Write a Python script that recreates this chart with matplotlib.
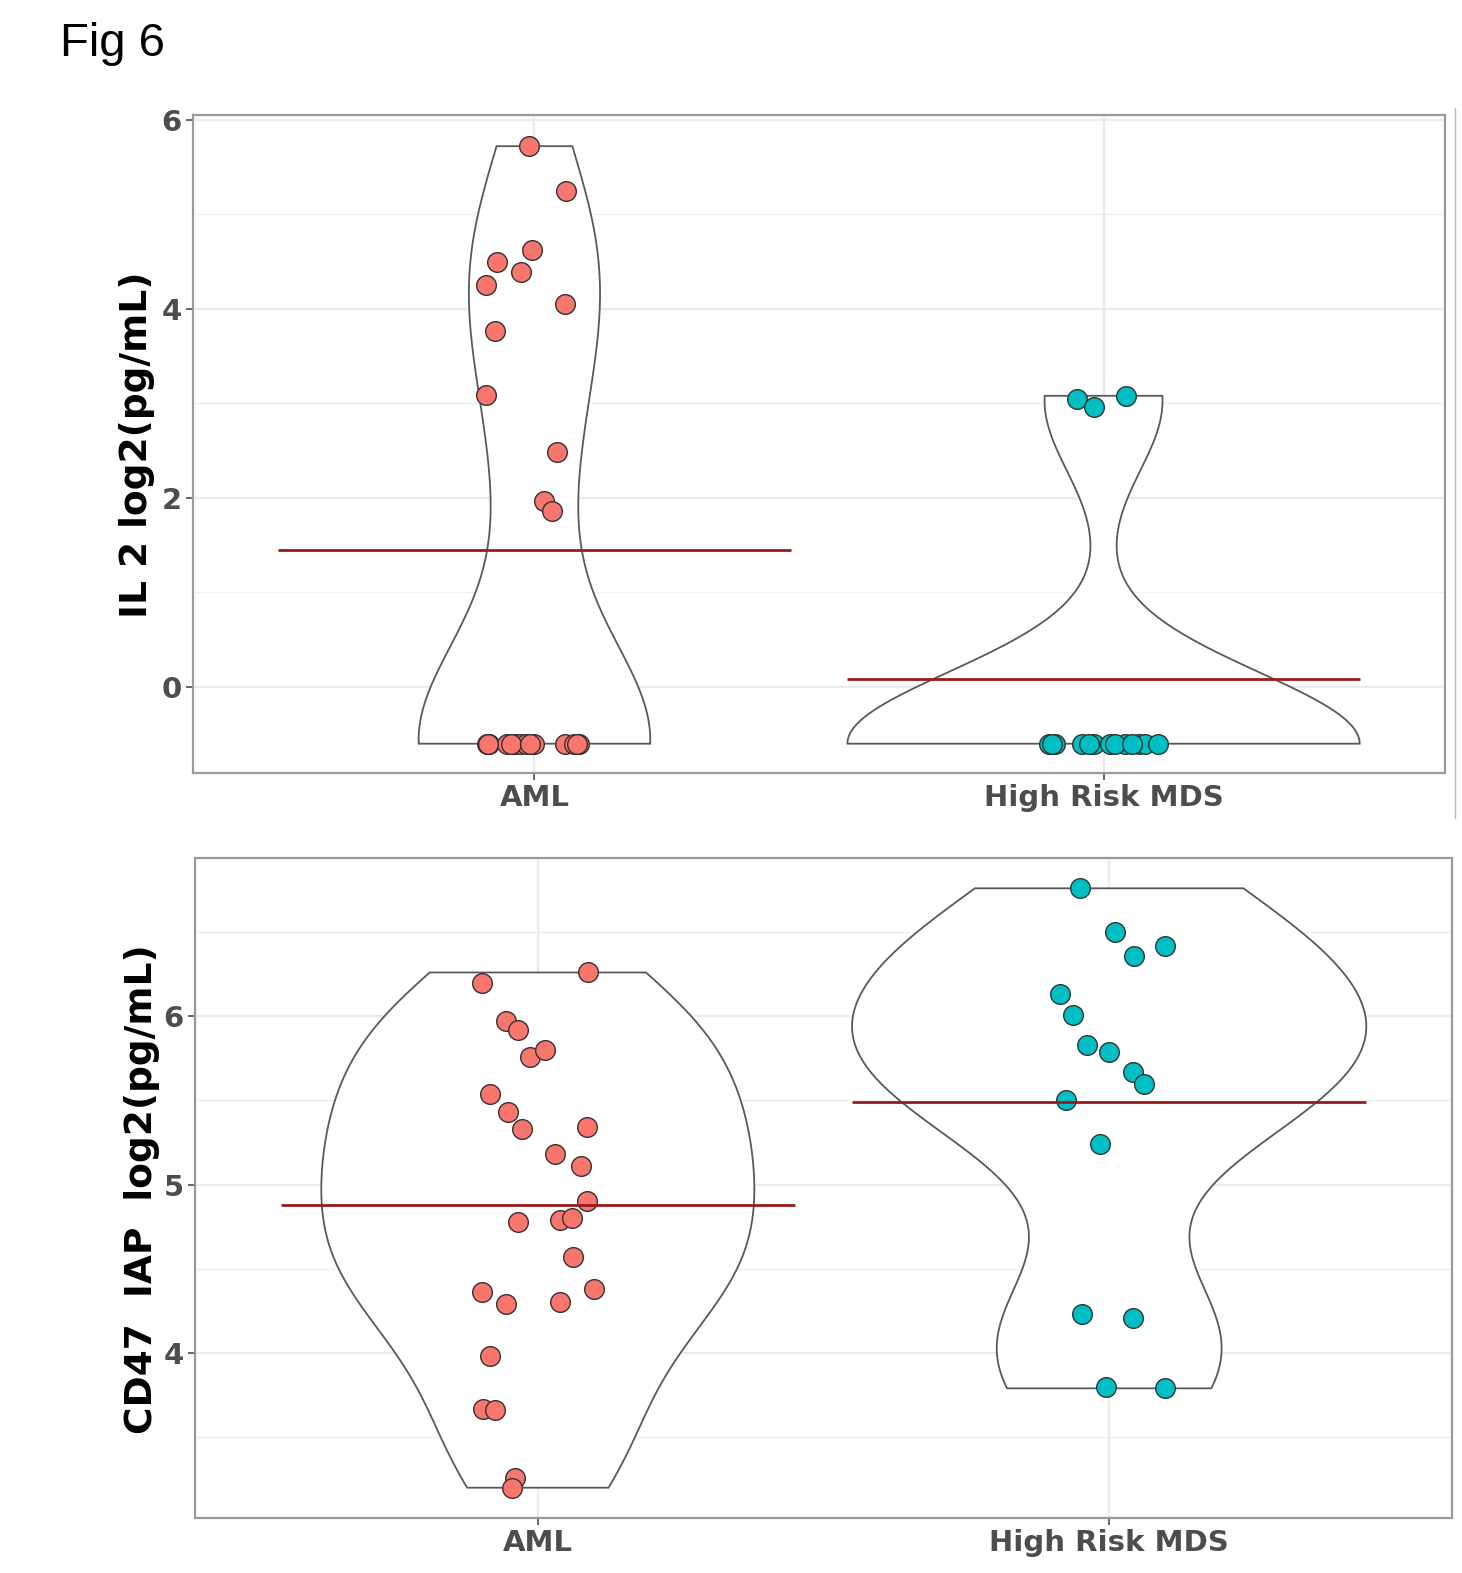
import numpy as np
import matplotlib
matplotlib.use("Agg")
import matplotlib.pyplot as plt
from matplotlib.lines import Line2D

# ---- data ----
groups = ["AML", "High Risk MDS"]
colors = ["#F8766D", "#00BFC4"]

# IL 2, log2(pg/mL)
il2_aml = [5.72, 5.25, 4.62, 4.49, 4.39, 4.25, 4.05, 3.77, 3.09, 2.49, 1.97, 1.86,
           -0.6, -0.6, -0.6, -0.6, -0.6, -0.6, -0.6, -0.6, -0.6, -0.6, -0.6, -0.6, -0.6, -0.6]
il2_aml_jit = [-0.009, 0.056, -0.005, -0.065, -0.023, -0.086, 0.054, -0.069, -0.086, 0.040, 0.016, 0.030,
               -0.084, -0.079, -0.049, -0.035, -0.026, -0.014, 0.0, 0.053, 0.070, 0.079, -0.082, -0.042, -0.007, 0.075]
il2_mds = [3.05, 2.96, 3.08,
           -0.6, -0.6, -0.6, -0.6, -0.6, -0.6, -0.6, -0.6, -0.6, -0.6, -0.6, -0.6, -0.6]
il2_mds_jit = [-0.047, -0.016, 0.040,
               -0.095, -0.086, -0.037, -0.016, 0.011, 0.037, 0.063, 0.072, 0.095, -0.090, -0.025, 0.020, 0.050]

# CD47 IAP, log2(pg/mL)
cd47_aml = [6.20, 6.26, 5.97, 5.92, 5.76, 5.80, 5.54, 5.43, 5.33, 5.34, 5.18, 5.11, 4.90,
            4.78, 4.79, 4.80, 4.57, 4.36, 4.29, 4.30, 4.38, 3.98, 3.67, 3.66, 3.26, 3.20]
cd47_aml_jit = [-0.098, 0.088, -0.056, -0.035, -0.014, 0.012, -0.084, -0.053, -0.028, 0.086, 0.030, 0.075, 0.086,
                -0.035, 0.039, 0.060, 0.061, -0.098, -0.056, 0.039, 0.098, -0.084, -0.096, -0.075, -0.040, -0.046]
cd47_mds = [6.76, 6.50, 6.36, 6.42, 6.13, 6.01, 5.83, 5.79, 5.67, 5.60, 5.50, 5.24, 4.23, 4.21, 3.80, 3.79]
cd47_mds_jit = [-0.051, 0.011, 0.044, 0.098, -0.086, -0.063, -0.039, 0.0, 0.042, 0.061, -0.075, -0.016,
                -0.047, 0.042, -0.005, 0.098]


def nrd0(x):
    x = np.asarray(x)
    hi = np.std(x, ddof=1)
    q = np.percentile(x, [25, 75])
    lo = min(hi, (q[1] - q[0]) / 1.34)
    if lo == 0:
        lo = hi
    return 0.9 * lo * len(x) ** -0.2


def kde(x, grid):
    x = np.asarray(x)
    bw = nrd0(x)
    z = (grid[:, None] - x[None, :]) / bw
    return np.exp(-0.5 * z ** 2).sum(axis=1) / (len(x) * bw * np.sqrt(2 * np.pi))


def panel(ax, series, jits, ylim, yticks, yminor):
    ax.set_xlim(-0.6, 1.6)
    ax.set_ylim(*ylim)
    # grid
    for v in yminor:
        ax.axhline(v, color="#F0F0F0", lw=1.0, zorder=0)
    for v in yticks:
        ax.axhline(v, color="#EBEBEB", lw=1.6, zorder=0)
    for i in range(len(series)):
        ax.axvline(i, color="#EBEBEB", lw=1.6, zorder=0)

    # violins, scale = "area"
    dens = []
    for s in series:
        g = np.linspace(min(s), max(s), 512)
        dens.append((g, kde(s, g)))
    dmax = max(d.max() for g, d in dens)
    for i, (g, d) in enumerate(dens):
        w = d / dmax * 0.45
        xs = np.concatenate([i + w, (i - w)[::-1]])
        ys = np.concatenate([g, g[::-1]])
        ax.fill(xs, ys, facecolor="white", edgecolor="#595959", lw=1.3, zorder=2)

    for i, (s, j) in enumerate(zip(series, jits)):
        ax.scatter(i + np.array(j), s, s=200, color=colors[i], edgecolor="#333333",
                   linewidth=1.0, zorder=3)
        m = np.mean(s)
        ax.hlines(m, i - 0.45, i + 0.45, color="#991B1E", lw=2.0, zorder=4)

    ax.set_xticks([0, 1])
    ax.set_xticklabels(groups)
    ax.set_yticks(yticks)
    ax.set_yticklabels([str(v) for v in yticks])
    for sp in ax.spines.values():
        sp.set_color("#9A9A9A")
        sp.set_linewidth(1.6)
    ax.tick_params(axis="both", colors="#4D4D4D", length=5, width=1.2, labelsize=21)
    for lab in ax.get_xticklabels() + ax.get_yticklabels():
        lab.set_fontweight("bold")
        lab.set_color("#4D4D4D")
    ax.tick_params(axis="x", pad=3)
    ax.tick_params(axis="y", pad=3)


fig = plt.figure(figsize=(14.62, 15.73), dpi=100)

ax1 = fig.add_axes([193 / 1462, 1 - 773 / 1573, (1445 - 193) / 1462, (773 - 115) / 1573])
panel(ax1, [il2_aml, il2_mds], [il2_aml_jit, il2_mds_jit], (-0.91, 6.05),
      [0, 2, 4, 6], [1, 3, 5])

ax2 = fig.add_axes([195 / 1462, 1 - 1518 / 1573, (1452 - 195) / 1462, (1518 - 858) / 1573])
panel(ax2, [cd47_aml, cd47_mds], [cd47_aml_jit, cd47_mds_jit], (3.02, 6.94),
      [4, 5, 6], [3.5, 4.5, 5.5, 6.5])

fig.text(137 / 1462, 1 - 445 / 1573, "IL 2 log2(pg/mL)", rotation=90, ha="center", va="center",
         fontsize=27, fontweight="bold")
fig.text(142 / 1462, 1 - 1189 / 1573, "CD47  IAP  log2(pg/mL)", rotation=90, ha="center", va="center",
         fontsize=27, fontweight="bold")
fig.text(60 / 1462, 1 - 44 / 1573, "Fig 6", ha="left", va="center", fontsize=34,
         family=["Liberation Sans", "DejaVu Sans"])

fig.add_artist(Line2D([1455 / 1462, 1455 / 1462], [1 - 108 / 1573, 1 - 818 / 1573],
                      color="#BBBBBB", lw=1.0))

fig.savefig("out.png", dpi=100, facecolor="white")
